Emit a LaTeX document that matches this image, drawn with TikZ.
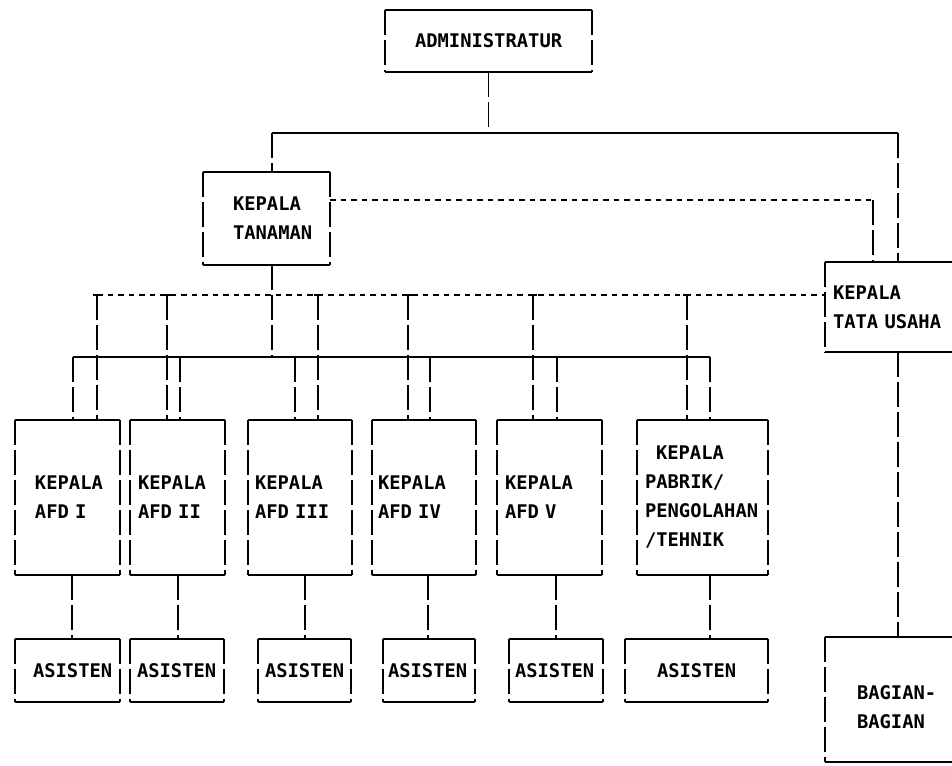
\documentclass[tikz,border=0pt]{standalone}
\usepackage{fontspec}
\newfontfamily\typer{DejaVu Sans Mono}
\usepackage{tikz}

\tikzset{
  rim/.style={line width=1.6pt},
  bar/.style={line width=1.6pt, dash pattern=on 25pt off 5pt},
  dots/.style={line width=1.6pt, dash pattern=on 5.5pt off 5pt},
  box/.style 2 args={inner xsep=0pt, inner ysep=0pt, text width=#1,
    align=left, execute at begin node={\leftskip=#2pt\relax},
    font=\typer\bfseries\fontsize{18.8}{29}\selectfont},
}

\begin{document}
\begin{tikzpicture}[x=1pt,y=-1pt]
  \pgfmathsetmacro{\BusTop}{133}
  \pgfmathsetmacro{\BusLow}{357}
  \pgfmathsetmacro{\DotHigh}{200}
  \pgfmathsetmacro{\DotLow}{295}

  \useasboundingbox (0,0) rectangle (952,765);
  \clip (0,0) rectangle (952,765);

  \node[box={207}{30}, minimum height=62] (adm) at (488.5,41) {ADMINISTRATUR};
  \node[box={127}{30}, minimum height=93] (tan) at (266.5,218.5) {KEPALA\\TANAMAN};
  \node[box={160}{8}, minimum height=90] (tata) at (905,307) {KEPALA\\TATA USAHA};
  \node[box={160}{32}, minimum height=125] (bag) at (905,699.5) {\mbox{}\\BAGIAN-\\BAGIAN};

  \node[box={105}{20}, minimum height=155] (afd1) at (67.5,497.5) {KEPALA\\AFD I};
  \node[box={95}{8}, minimum height=155] (afd2) at (177.5,497.5) {KEPALA\\AFD II};
  \node[box={104}{7}, minimum height=155] (afd3) at (300,497.5) {KEPALA\\AFD III};
  \node[box={104}{6}, minimum height=155] (afd4) at (424,497.5) {KEPALA\\AFD IV};
  \node[box={105}{8}, minimum height=155] (afd5) at (549.5,497.5) {KEPALA\\AFD V};
  \node[box={131}{8}, minimum height=155] (pab) at (702.5,497.5)
    {\hspace*{11pt}KEPALA\\PABRIK/\\PENGOLAHAN\\/TEHNIK};

  \node[box={105}{18}, minimum height=63] (as1) at (67.5,670.5) {ASISTEN};
  \node[box={94}{7}, minimum height=63] (as2) at (177,670.5) {ASISTEN};
  \node[box={93}{7}, minimum height=63] (as3) at (304.5,670.5) {ASISTEN};
  \node[box={92}{5}, minimum height=63] (as4) at (429,670.5) {ASISTEN};
  \node[box={94}{6}, minimum height=63] (as5) at (556,670.5) {ASISTEN};
  \node[box={143}{32}, minimum height=63] (as6) at (696.5,670.5) {ASISTEN};

  % typed frames: rules across, bars down the sides
  \foreach \n in {adm,tan,tata,bag,afd1,afd2,afd3,afd4,afd5,pab,as1,as2,as3,as4,as5,as6} {
    \draw[rim] (\n.north west) -- (\n.north east) (\n.south west) -- (\n.south east);
    \draw[bar] (\n.north west) -- (\n.south west) (\n.north east) -- (\n.south east);
  }

  \draw[bar] (adm.south) -- (adm.south |- 0,\BusTop);
  \draw[rim] (272,\BusTop) -- (898,\BusTop);
  \draw[bar] (272,\BusTop) -- (tan.north -| 272,0);
  \draw[bar] (898,\BusTop) -- (tata.north -| 898,0);
  \draw[dots] (tan.east |- 0,\DotHigh) -- (873,\DotHigh);
  \draw[bar] (873,\DotHigh) -- (tata.north -| 873,0);

  \draw[bar] (tan.south -| 272,0) -- (272,\BusLow);
  \draw[rim] (73,\BusLow) -- (710,\BusLow);
  \draw[dots] (97,\DotLow) -- (tata.west |- 0,\DotLow);

  \foreach \n/\s/\d in {afd1/73/97, afd2/180/167, afd3/295/318, afd4/430/408, afd5/557/533, pab/710/687} {
    \draw[bar] (\s,\BusLow) -- (\n.north -| \s,0);
    \draw[bar] (\d,\DotLow) -- (\n.north -| \d,0);
    \draw[rim] (\d-4,\DotLow) -- (\d+4,\DotLow);
  }

  \foreach \n/\m/\x in {afd1/as1/72, afd2/as2/178, afd3/as3/305, afd4/as4/428, afd5/as5/556, pab/as6/710}
    \draw[bar] (\n.south -| \x,0) -- (\m.north -| \x,0);
  \draw[bar] (tata.south -| 898,0) -- (bag.north -| 898,0);
\end{tikzpicture}
\end{document}
